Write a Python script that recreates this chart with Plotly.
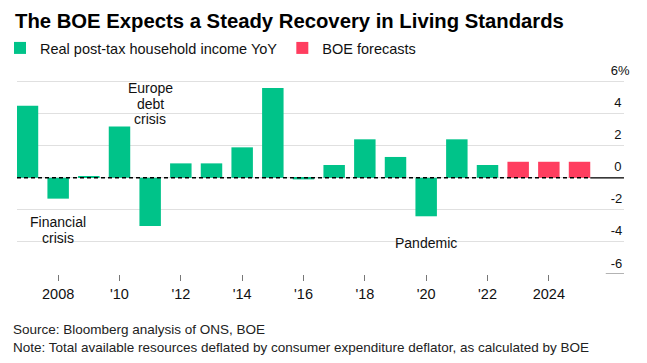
import plotly.graph_objects as go

# ---- data ----
actual_years = list(range(2007, 2023))
actual_values = [4.5, -1.3, 0.1, 3.2, -3.0, 0.9, 0.9, 1.9, 5.6, -0.1, 0.8, 2.4, 1.3, -2.4, 2.4, 0.8]
forecast_years = [2023, 2024, 2025]
forecast_values = [1.0, 1.0, 1.0]

x_tick_vals = [2008, 2010, 2012, 2014, 2016, 2018, 2020, 2022, 2024]
x_tick_text = ["2008", "'10", "'12", "'14", "'16", "'18", "'20", "'22", "2024"]
y_tick_vals = [-6, -4, -2, 0, 2, 4, 6]
y_tick_text = ["-6", "-4", "-2", "0", "2", "4", "6%"]

events = [
    (2008, -3.24, ["Financial", "crisis"]),
    (2011, 4.62, ["Europe", "debt", "crisis"]),
    (2020, -4.08, ["Pandemic"]),
]

GREEN = "#00c389"
RED = "#ff3d5f"
FONT = "Liberation Sans, Arial, sans-serif"
NB = "\u00a0"

fig = go.Figure()
fig.add_trace(go.Bar(x=actual_years, y=actual_values, name="Real post-tax household income YoY",
                     marker=dict(color=GREEN, line=dict(width=0)), width=0.7))
fig.add_trace(go.Bar(x=forecast_years, y=forecast_values, name="BOE forecasts",
                     marker=dict(color=RED, line=dict(width=0)), width=0.7))

x_start = 2006.658
x_end = 2026.45
last_edge = forecast_years[-1] + 0.35

# short marker under the bottom label
fig.add_shape(type="line", xref="x domain", yref="y", x0=0.97, x1=1.0, y0=-6, y1=-6,
              line=dict(color="#666666", width=1), layer="above")
# zero line: dashed over the bars, solid beyond them
fig.add_shape(type="line", xref="x", yref="y", x0=x_start, x1=last_edge, y0=0, y1=0,
              line=dict(color="black", width=1.5, dash="4px,3px"), layer="above")
fig.add_shape(type="line", xref="x", yref="y", x0=last_edge, x1=x_end, y0=0, y1=0,
              line=dict(color="black", width=1.2), layer="above")

for ex, ey, lines in events:
    n = len(lines)
    for i, t in enumerate(lines):
        fig.add_annotation(x=ex, y=ey, xref="x", yref="y", text=t, showarrow=False,
                           yshift=((n - 1) / 2 - i) * 15.5,
                           font=dict(family=FONT, size=14, color="#111111"))

fig.add_annotation(xref="paper", yref="paper", x=-0.009, y=-0.235, xanchor="left", yanchor="top",
                   align="left", showarrow=False,
                   text="Source: Bloomberg analysis of ONS, BOE<br>Note: Total available resources deflated by consumer expenditure deflator, as calculated by BOE",
                   font=dict(family=FONT, size=13.5, color="#222222"))

# single-digit non-negative labels get a leading no-break space so digits line up on the right
y_text_padded = [NB + t if (len(t) == 1) else t for t in y_tick_text]

fig.update_layout(
    width=647, height=363,
    margin=dict(l=17, r=10, t=80.1, b=88.7),
    paper_bgcolor="white", plot_bgcolor="white",
    font=dict(family=FONT, color="#111111"),
    showlegend=True,
    title=dict(text="The BOE Expects a Steady Recovery in Living Standards",
               x=15 / 647, xref="container", xanchor="left",
               y=1 - 21 / 363, yref="container", yanchor="middle",
               font=dict(family=FONT, size=20.3, color="black", weight=700)),
    legend=dict(orientation="h", xref="container", yref="container", x=-0.006, y=1 - 48 / 363,
                xanchor="left", yanchor="middle", font=dict(family=FONT, size=14.5, color="#111111"),
                bgcolor="rgba(0,0,0,0)", traceorder="normal"),
    xaxis=dict(range=[x_start, x_end], domain=[0, 0.979], tickvals=x_tick_vals, ticktext=x_tick_text,
               ticks="outside", ticklen=6, tickcolor="#777777", tickwidth=1, ticklabelstandoff=1,
               showgrid=False, zeroline=False, showline=False, automargin=False,
               tickfont=dict(family=FONT, size=14.5, color="#111111")),
    yaxis=dict(range=[-6, 6.1], anchor="free", position=0.956, side="right",
               tickvals=y_tick_vals, ticktext=y_text_padded, ticklabelposition="outside",
               ticklabelshift=-11, showgrid=True, gridcolor="#e0e0e0", gridwidth=1,
               zeroline=False, showline=False, ticks="", automargin=False,
               tickfont=dict(family=FONT, size=13, color="#111111")),
)

fig.write_html("out.html", config={"displayModeBar": False},
               post_script="document.body.style.margin='0';document.body.style.padding='0';")
